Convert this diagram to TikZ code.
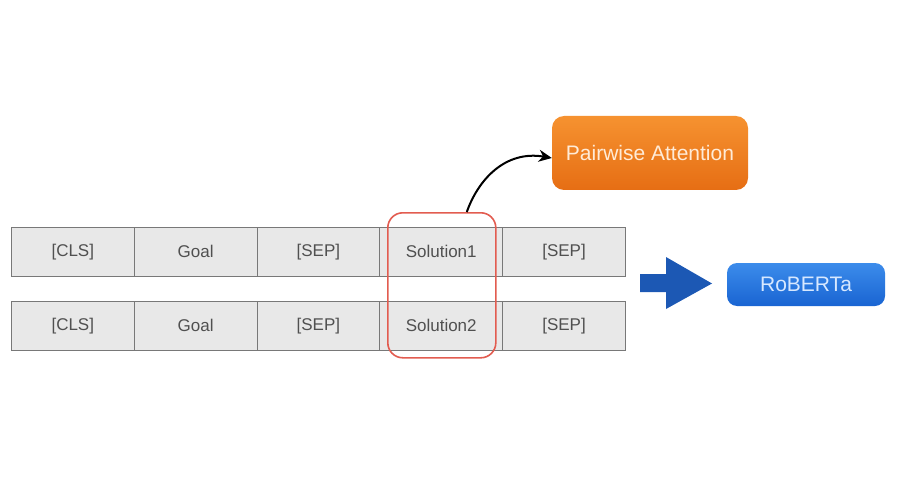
\documentclass[tikz,border=0pt]{standalone}
\usepackage{fontspec}
\setmainfont{Liberation Sans}
\usetikzlibrary{arrows.meta}
\definecolor{cellfill}{RGB}{232,232,232}
\definecolor{cellline}{RGB}{120,120,120}
\definecolor{celltext}{RGB}{80,80,80}
\definecolor{redsel}{RGB}{226,92,80}
\definecolor{orangeA}{RGB}{246,146,48}
\definecolor{orangeB}{RGB}{230,110,20}
\definecolor{blueA}{RGB}{60,140,235}
\definecolor{blueB}{RGB}{25,100,210}
\definecolor{bigarrow}{RGB}{28,88,180}
\begin{document}
\begin{tikzpicture}[x=1pt,y=-1pt,
  cell/.style={draw=cellline, fill=cellfill, line width=0.8pt, minimum width=122.8pt, minimum height=49pt, inner sep=0pt, anchor=north west, text=celltext, font=\fontsize{17}{19}\selectfont},
  pwbox/.style={rounded corners=12pt, top color=orangeA, bottom color=orangeB, draw=none, minimum width=196pt, minimum height=74pt, text={rgb,255:red,255;green,235;blue,215}, font=\fontsize{21}{23}\selectfont},
  robox/.style={rounded corners=10pt, top color=blueA, bottom color=blueB, draw=none, minimum width=158pt, minimum height=43pt, text={rgb,255:red,215;green,232;blue,255}, font=\fontsize{21}{23}\selectfont},
  selbox/.style={draw=redsel, line width=1.6pt, rounded corners=15pt},
  curvearrow/.style={-{Stealth[length=13pt,width=12pt]}, line width=2pt, black},
  blockarrow/.style={fill=bigarrow, draw=none}
]
\useasboundingbox (0,0) rectangle (900,500);
% row 1
\node[cell] (a1) at (11,227) {[CLS]};
\node[cell] (b1) at (133.8,227) {Goal};
\node[cell] (c1) at (256.6,227) {[SEP]};
\node[cell] (d1) at (379.4,227) {Solution1};
\node[cell] (e1) at (502.2,227) {[SEP]};
% row 2
\node[cell] (a2) at (11,301) {[CLS]};
\node[cell] (b2) at (133.8,301) {Goal};
\node[cell] (c2) at (256.6,301) {[SEP]};
\node[cell] (d2) at (379.4,301) {Solution2};
\node[cell] (e2) at (502.2,301) {[SEP]};
% selection
\node[selbox, minimum width=108pt, minimum height=145pt, anchor=north west] (sel) at (387,212) {};
% pairwise attention
\node[pwbox] (pw) at (650,153) {Pairwise Attention};
\coordinate (cs) at ([xshift=25pt]sel.north);
\draw[curvearrow] (cs) .. controls (478,180) and (505,150) .. ([yshift=-5pt]pw.west);
% big blue arrow
\fill[blockarrow] (640,274) -- (666,274) -- (666,257) -- (712,283.5) -- (666,309) -- (666,292) -- (640,292) -- cycle;
% roberta
\node[robox] (ro) at (806,284.5) {RoBERTa};
\end{tikzpicture}
\end{document}
